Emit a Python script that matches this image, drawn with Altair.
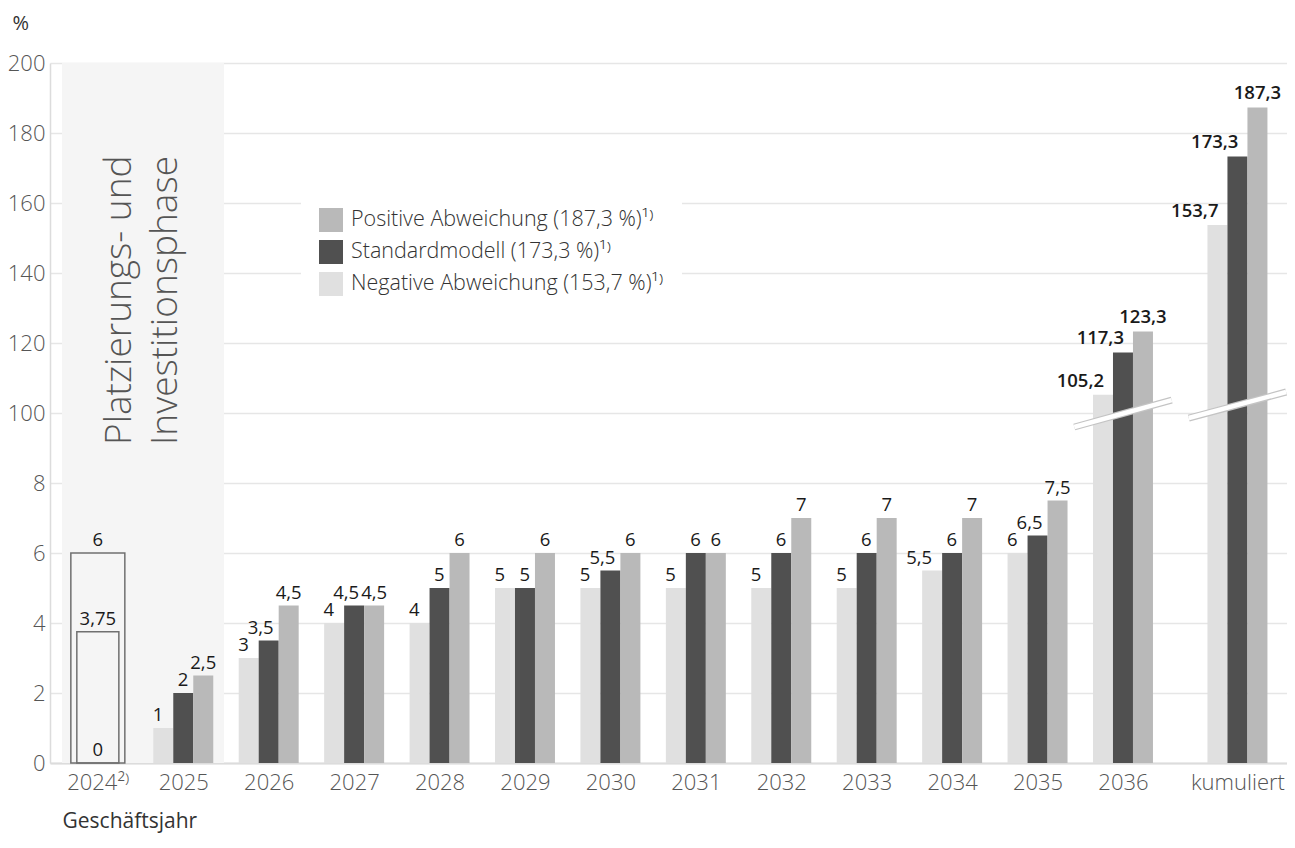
import json
import altair as alt
import pandas as pd

# ---------------- data ----------------
categories = ["2024", "2025", "2026", "2027", "2028", "2029", "2030",
              "2031", "2032", "2033", "2034", "2035", "2036", "kumuliert"]
tick_labels = ["2024²⁾", "2025", "2026", "2027", "2028", "2029", "2030",
               "2031", "2032", "2033", "2034", "2035", "2036", "kumuliert"]
series = ["Negative Abweichung (153,7 %)¹⁾",
          "Standardmodell (173,3 %)¹⁾",
          "Positive Abweichung (187,3 %)¹⁾"]
# values for 2025 ... 2036, kumuliert
negative = [1, 3, 4, 4, 5, 5, 5, 5, 5, 5.5, 6, 105.2, 153.7]
standard = [2, 3.5, 4.5, 5, 5, 5.5, 6, 6, 6, 6, 6.5, 117.3, 173.3]
positive = [2.5, 4.5, 4.5, 6, 6, 6, 6, 7, 7, 7, 7.5, 123.3, 187.3]
values_2024 = [6, 3.75]          # outlined bars of 2024
labels_2024 = [6, 3.75, 0]
y_ticks = [0, 2, 4, 6, 8, 100, 120, 140, 160, 180, 200]
break_groups = [12, 13]          # 2036, kumuliert
break_low = [81.6, 93.4]
break_high = [103.7, 106.0]

# ---------------- layout constants ----------------
KGAP = 0.34          # extra gap before "kumuliert"
BW = 0.234           # bar width in group units
OUTLINE_HW = [0.316, 0.246]
BREAK_HW = 0.57
COLORS = ["#e0e0e0", "#505050", "#b9b9b9"]
FONT = "Open Sans"

rows = []
for i in range(1, len(categories)):
    for k, arr in enumerate([negative, standard, positive]):
        rows.append({"year": categories[i], "idx": i, "k": k,
                     "series": series[k], "v": arr[i - 1]})
bars_df = pd.DataFrame(rows)

out24_df = pd.DataFrame({"v": values_2024, "hw": OUTLINE_HW})
lab24_df = pd.DataFrame({"v": labels_2024})
breaks_df = pd.DataFrame({"idx": break_groups, "lo": break_low, "hi": break_high})

xscale = alt.Scale(domain=[-0.56, 13.92], nice=False, zero=False, padding=0)
yscale = alt.Scale(domain=[0, 8, 100, 200], range=[700, 420, 350, 0],
                   nice=False, zero=False, padding=0)

label_expr = (json.dumps(tick_labels, ensure_ascii=False)
              + "[datum.value > 12.5 ? 13 : round(datum.value)]")

xaxis = alt.Axis(values=list(range(13)) + [13 + KGAP], labelExpr=label_expr,
                 grid=False, ticks=False, domainColor="#dcdcdc", domainWidth=2,
                 labelFontSize=22, labelColor="#555555", labelFont=FONT,
                 labelFontWeight=300, labelPadding=9, labelFlush=False,
                 labelOverlap=False, title="Geschäftsjahr", titleAnchor="start",
                 titleAlign="left", titleX=12, titleY=64,
                 titleBaseline="alphabetic", titleFontSize=21,
                 titleFontWeight="normal", titleColor="#333333", titleFont=FONT)
yaxis = alt.Axis(values=y_ticks, grid=True, gridColor="#e6e6e6", gridWidth=1.5,
                 ticks=False, domainColor="#dcdcdc", domainWidth=1.5,
                 labelFontSize=22, labelColor="#555555", labelFont=FONT,
                 labelFontWeight=300, labelPadding=5, title="%", titleAngle=0,
                 titleAlign="left", titleBaseline="middle", titleX=-38,
                 titleY=-40, titleFontSize=20, titleFontWeight="normal",
                 titleColor="#333333", titleFont=FONT)


def X(f):
    return alt.X(f, type="quantitative", scale=xscale, axis=xaxis)


def Y(f):
    return alt.Y(f, type="quantitative", scale=yscale, axis=yaxis)


calc = dict(
    gx="datum.idx + (datum.idx == 13 ? %s : 0)" % KGAP,
)

bars_base = (alt.Chart(bars_df)
             .transform_calculate(**calc)
             .transform_calculate(x0="datum.gx + (datum.k - 1.5) * %s" % BW)
             .transform_calculate(x1="datum.x0 + %s" % BW,
                                  xc="datum.x0 + %s" % (BW / 2),
                                  lbl="replace(toString(datum.v), '.', ',')"))

band = alt.Chart(pd.DataFrame({"a": [0]})).mark_rect(color="#f5f5f5").encode(
    x=alt.value(12), x2=alt.value(174), y=alt.value(0), y2=alt.value(700))

bars = bars_base.mark_bar().encode(
    x=X("x0"), x2="x1", y=Y("v"), y2=alt.datum(0),
    color=alt.Color("series:N",
                    scale=alt.Scale(domain=series, range=COLORS),
                    legend=alt.Legend(title=None, orient="none", legendX=251,
                                      legendY=127, fillColor="white",
                                      padding=18, symbolType="square",
                                      symbolSize=576, symbolStrokeWidth=0,
                                      symbolOpacity=1, labelFontSize=21.5,
                                      labelColor="#333333", labelFont=FONT,
                                      labelFontWeight=300, labelLimit=500,
                                      rowPadding=8, labelOffset=8,
                                      values=list(reversed(series)))))

outlines = (alt.Chart(out24_df)
            .transform_calculate(xa="-datum.hw", xb="datum.hw")
            .mark_rect(fillOpacity=0, stroke="#707070", strokeWidth=1.5)
            .encode(x=X("xa"), x2="xb", y=Y("v"), y2=alt.datum(0)))

lab24 = (alt.Chart(lab24_df)
         .transform_calculate(xz="0",
                              lbl="replace(toString(datum.v), '.', ',')",
                              vy="datum.v")
         .mark_text(baseline="alphabetic", dy=-7, fontSize=18.5,
                    color="#1a1a1a", font=FONT)
         .encode(x=X("xz"), y=Y("vy"), text="lbl:N"))

break_base = (alt.Chart(breaks_df)
              .transform_calculate(**calc)
              .transform_calculate(xa="datum.gx - %s" % BREAK_HW,
                                   xb="datum.gx + %s" % BREAK_HW))
break_grey = break_base.mark_rule(stroke="#c4c4c4", strokeWidth=7,
                                  strokeCap="butt").encode(
    x=X("xa"), x2="xb", y=Y("lo"), y2="hi")
break_white = break_base.mark_rule(stroke="white", strokeWidth=4.5,
                                   strokeCap="butt").encode(
    x=X("xa"), x2="xb", y=Y("lo"), y2="hi")

lab_l_small = bars_base.transform_filter("datum.k == 0 && datum.v < 100").mark_text(
    align="right", baseline="alphabetic", dx=0, dy=-7, fontSize=18.5,
    color="#1a1a1a", font=FONT).encode(x=X("xc"), y=Y("v"), text="lbl:N")
lab_d_small = bars_base.transform_filter("datum.k == 1 && datum.v < 100").mark_text(
    align="right", baseline="alphabetic", dx=5, dy=-7, fontSize=18.5,
    color="#1a1a1a", font=FONT).encode(x=X("xc"), y=Y("v"), text="lbl:N")
lab_ld_big = bars_base.transform_filter("datum.k < 2 && datum.v >= 100").mark_text(
    align="right", baseline="alphabetic", dx=1, dy=-8, fontSize=18.5,
    fontWeight=600, color="#1a1a1a", font=FONT).encode(
    x=X("xc"), y=Y("v"), text="lbl:N")
lab_p_small = bars_base.transform_filter("datum.k == 2 && datum.v < 100").mark_text(
    align="center", baseline="alphabetic", dy=-7, fontSize=18.5,
    color="#1a1a1a", font=FONT).encode(x=X("xc"), y=Y("v"), text="lbl:N")
lab_p_big = bars_base.transform_filter("datum.k == 2 && datum.v >= 100").mark_text(
    align="center", baseline="alphabetic", dy=-8, fontSize=18.5,
    fontWeight=600, color="#1a1a1a", font=FONT).encode(
    x=X("xc"), y=Y("v"), text="lbl:N")

phase = alt.Chart(pd.DataFrame({"a": [0]})).mark_text(
    text=["Platzierungs- und", "Investitionsphase"], angle=270, align="left",
    baseline="middle", lineHeight=46, fontSize=37, fontWeight=300,
    color="#555555", font=FONT).encode(x=alt.value(70), y=alt.value(382))

chart = alt.layer(
    band, bars, outlines, break_grey, break_white,
    lab24, lab_l_small, lab_d_small, lab_ld_big, lab_p_small, lab_p_big, phase
).properties(
    width=1237, height=700,
    padding={"left": 42, "top": 55, "right": 0, "bottom": 70},
    autosize=alt.AutoSizeParams(type="none"),
).configure_view(stroke=None)

chart.save("out.html", embed_options={"renderer": "svg", "actions": False})
